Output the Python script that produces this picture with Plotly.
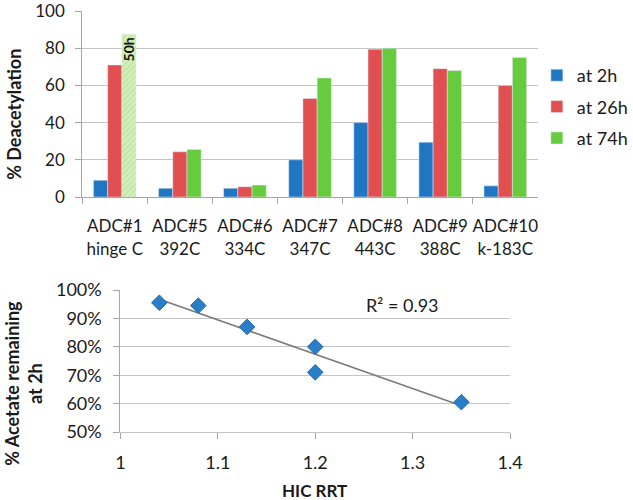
import numpy as np
import plotly.graph_objects as go

# ---- data: top bar chart ----
categories = ["ADC#1<br>hinge C", "ADC#5<br>392C", "ADC#6<br>334C", "ADC#7<br>347C",
              "ADC#8<br>443C", "ADC#9<br>388C", "ADC#10<br>k-183C"]
deacet_2h = [9, 4.7, 4.7, 20, 40, 29.5, 6]
deacet_26h = [71, 24.3, 5.5, 53, 79.5, 69, 60]
deacet_74h = [None, 25.6, 6.4, 64, 80, 68, 75]
deacet_50h_cat = ["ADC#1<br>hinge C"]
deacet_50h = [87.5]
series_names = ["at 2h", "at 26h", "at 74h"]
y1_ticks = [0, 20, 40, 60, 80, 100]

# ---- data: bottom scatter ----
hic_rrt = [1.04, 1.08, 1.13, 1.2, 1.2, 1.35]
acetate_remaining = [95.5, 94.5, 87, 80, 71, 60.5]
x2_ticks = [1, 1.1, 1.2, 1.3, 1.4]
x2_ticktext = ["1", "1.1", "1.2", "1.3", "1.4"]
y2_ticks = [50, 60, 70, 80, 90, 100]
y2_ticktext = ["50%", "60%", "70%", "80%", "90%", "100%"]
r2_label = "R² = 0.93"

blue = "#1f77c4"
red = "#e05050"
green = "#66cc3e"
grid = "#c4c4c4"
axc = "#a6a6a6"
txt = "#1a1a1a"
font_family = "Lato, Open Sans, sans-serif"

fig = go.Figure()

fig.add_trace(go.Bar(x=categories, y=deacet_2h, name=series_names[0], marker_color=blue,
                     offsetgroup="a", legendgroup="a", xaxis="x", yaxis="y"))
fig.add_trace(go.Bar(x=categories, y=deacet_26h, name=series_names[1], marker_color=red,
                     offsetgroup="b", legendgroup="b", xaxis="x", yaxis="y"))
fig.add_trace(go.Bar(x=categories, y=deacet_74h, name=series_names[2], marker_color=green,
                     offsetgroup="c", legendgroup="c", xaxis="x", yaxis="y"))
fig.add_trace(go.Bar(x=deacet_50h_cat, y=deacet_50h, showlegend=False, offsetgroup="c",
                     legendgroup="c",
                     marker=dict(color="#d2f0bb",
                                 pattern=dict(shape="/", fgcolor="#a6da80", fillmode="overlay",
                                              size=4, solidity=0.35)),
                     text=["50h"], textposition="inside", insidetextanchor="end",
                     textangle=-90, constraintext="none",
                     textfont=dict(family=font_family, size=14, color="#111111", weight="bold"),
                     xaxis="x", yaxis="y", hoverinfo="skip"))

# trend line (least squares from the data)
slope, intercept = np.polyfit(hic_rrt, acetate_remaining, 1)
xl = np.array([min(hic_rrt), max(hic_rrt)])
fig.add_trace(go.Scatter(x=xl, y=slope * xl + intercept, mode="lines",
                         line=dict(color="#7a7a7a", width=1.5), showlegend=False,
                         xaxis="x2", yaxis="y2"))
fig.add_trace(go.Scatter(x=hic_rrt, y=acetate_remaining, mode="markers",
                         marker=dict(symbol="diamond", size=12, color="#2a7ec8",
                                     line=dict(width=1, color="#1f6fb3")),
                         showlegend=False, xaxis="x2", yaxis="y2"))

W, H = 633, 500
def px(x): return x / W
def py(y): return (H - y) / H

fig.update_layout(
    width=W, height=H, autosize=False,
    margin=dict(l=0, r=0, t=0, b=0),
    paper_bgcolor="white", plot_bgcolor="white",
    font=dict(family=font_family, color=txt),
    barmode="group", bargap=0.345, bargroupgap=0,
    showlegend=True,
    legend=dict(x=px(542), y=py(57), xanchor="left", yanchor="top",
                font=dict(size=18, color=txt), itemwidth=30, tracegroupgap=5,
                bgcolor="rgba(0,0,0,0)"),
    xaxis=dict(domain=[px(83), px(543)], anchor="y", showgrid=False, automargin=False,
               showline=True, linecolor=axc, linewidth=1, tickangle=0,
               ticks="outside", tickson="boundaries", ticklen=6, tickcolor=axc,
               ticklabelstandoff=14,
               tickfont=dict(size=17, color=txt)),
    yaxis=dict(domain=[py(197), py(11)], anchor="x", range=[0, 100], tickvals=y1_ticks,
               automargin=False, ticklabeloverflow="allow",
               showgrid=True, gridcolor=grid, gridwidth=1.2,
               showline=True, linecolor=axc, ticks="outside", ticklen=6,
               tickcolor=axc, zeroline=False, ticklabelstandoff=7,
               tickfont=dict(size=17, color=txt)),
    xaxis2=dict(domain=[px(121.5), px(515)], anchor="y2", range=[1, 1.4],
                automargin=False, tickangle=0, ticklabeloverflow="allow",
                tickvals=x2_ticks, ticktext=x2_ticktext,
                showgrid=False, showline=True, linecolor=grid, linewidth=1.2,
                ticks="outside", ticklen=6, ticklabelstandoff=8,
                tickcolor=axc, zeroline=False, tickfont=dict(size=18, color=txt)),
    yaxis2=dict(domain=[py(432), py(290)], anchor="x2", range=[50, 100],
                tickvals=y2_ticks, ticktext=y2_ticktext,
                automargin=False, ticklabeloverflow="allow",
                showgrid=True, gridcolor=grid, gridwidth=1.2,
                showline=True, linecolor=axc, ticks="outside", ticklen=6, tickcolor=axc,
                zeroline=False, ticklabelstandoff=8, tickfont=dict(size=18, color=txt)),
    annotations=[
        dict(text="<b>% Deacetylation</b>", x=px(14), y=py(114), xref="paper", yref="paper",
             xanchor="center", yanchor="middle",
             textangle=-90, showarrow=False, font=dict(size=18, color=txt)),
        dict(text="<b>% Acetate remaining<br>at 2h</b>", x=px(23), y=py(383),
             xref="paper", yref="paper", xanchor="center", yanchor="middle",
             textangle=-90, showarrow=False, font=dict(size=18, color=txt)),
        dict(text="<b>HIC RRT</b>", x=px(318), y=py(490), xref="paper", yref="paper",
             xanchor="center", yanchor="middle", showarrow=False,
             font=dict(size=17, color=txt)),
        dict(text=r2_label, x=1.29, y=94.7, xref="x2", yref="y2", showarrow=False,
             font=dict(size=18, color=txt)),
    ],
)

fig.write_html("out.html", config={"responsive": False, "displayModeBar": False},
               post_script="document.body.style.margin='0';document.body.style.overflow='hidden';")
